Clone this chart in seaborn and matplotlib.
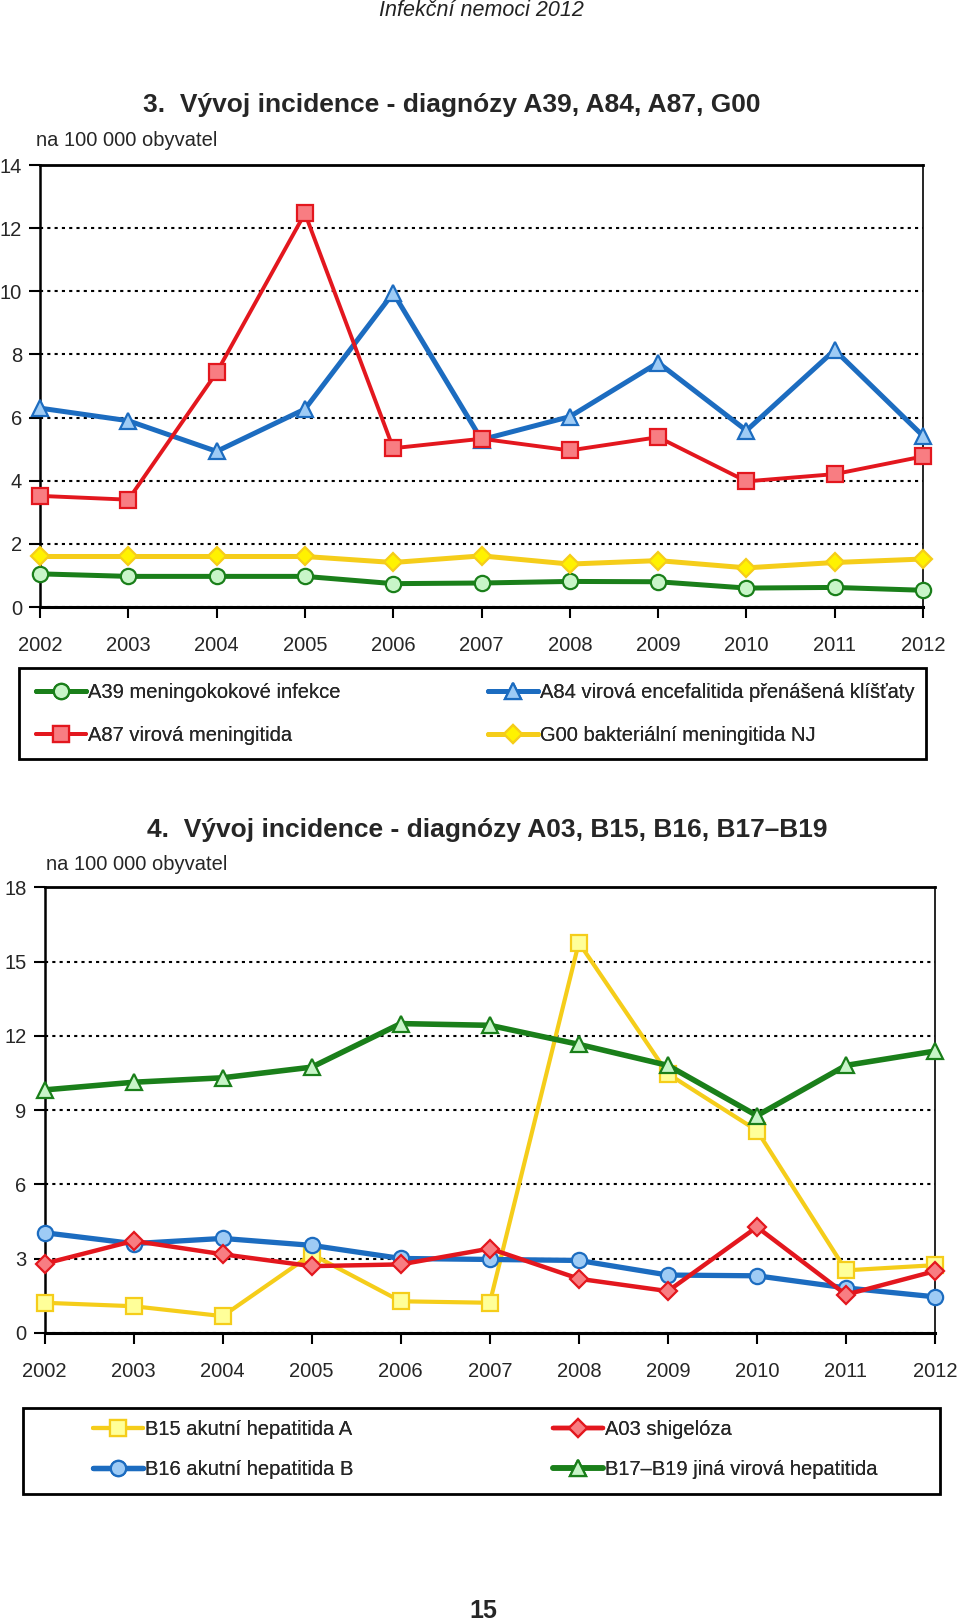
# Vývoj incidence - dva grafy (Infekční nemoci 2012)
import pandas as pd
import matplotlib.pyplot as plt
import seaborn as sns
from matplotlib.patches import Rectangle

sns.set_style('white')
plt.rcParams['font.family'] = ['Liberation Sans', 'DejaVu Sans']

# data - graf 3
years = [2002, 2003, 2004, 2005, 2006, 2007, 2008, 2009, 2010, 2011, 2012]
a39 = [1.05, 0.97, 0.97, 0.97, 0.74, 0.76, 0.81, 0.80, 0.60, 0.62, 0.53]
a84 = [6.30, 5.90, 4.93, 6.27, 9.95, 5.30, 6.03, 7.74, 5.59, 8.14, 5.42]
a87 = [3.52, 3.40, 7.43, 12.47, 5.03, 5.33, 4.96, 5.38, 3.98, 4.21, 4.77]
g00 = [1.60, 1.60, 1.60, 1.60, 1.41, 1.62, 1.36, 1.47, 1.24, 1.41, 1.52]

# data - graf 4
b15 = [1.22, 1.08, 0.68, 3.18, 1.28, 1.22, 15.77, 10.47, 8.18, 2.53, 2.74]
a03 = [2.80, 3.72, 3.18, 2.70, 2.77, 3.41, 2.19, 1.69, 4.28, 1.55, 2.50]
b16 = [4.05, 3.61, 3.82, 3.54, 3.01, 2.97, 2.93, 2.34, 2.31, 1.82, 1.46]
b17 = [9.82, 10.13, 10.31, 10.74, 12.50, 12.43, 11.66, 10.81, 8.78, 10.81, 11.39]

green, green_f = '#1a7f1a', '#c8f5c8'
red, red_f = '#e3171e', '#f87d82'
blue, blue_f = '#1c6cc0', '#9ecbf5'
yellow = '#f5cd1a'

fig = plt.figure(figsize=(9.6, 16.23), dpi=100)

fig.text(0.501, 0.9938, 'Infekční nemoci 2012', ha='center', va='center',
         fontsize=15.5, style='italic', color='#222222')
fig.text(0.503, 0.0075, '15', ha='center', va='center', fontsize=18, fontweight='bold')


def style_axes(ax, ymax, ystep):
    ax.set_xlim(2002, 2012)
    ax.set_ylim(0, ymax)
    ax.set_xticks(years)
    ax.set_yticks(range(0, ymax + 1, ystep))
    ax.set_xlabel('')
    ax.set_ylabel('')
    ax.tick_params(axis='both', labelsize=14.5, direction='out', length=8,
                   width=1.5, color='black', left=True, bottom=True)
    ax.tick_params(axis='x', pad=13)
    ax.tick_params(axis='y', pad=5)
    for s in ['left', 'right', 'top', 'bottom']:
        ax.spines[s].set_visible(True)
        ax.spines[s].set_color('black')
    ax.spines['left'].set_linewidth(1.8)
    ax.spines['bottom'].set_linewidth(2.2)
    ax.spines['top'].set_linewidth(2.0)
    ax.spines['right'].set_linewidth(1.2)
    ax.yaxis.grid(True, color='black', linestyle=(0, (1.5, 2)), linewidth=1.5)
    ax.xaxis.grid(False)
    ax.set_axisbelow(True)
    if ax.get_legend():
        ax.get_legend().remove()


def draw(ax, y, label, color, face, marker, lw, ms, z):
    sns.lineplot(x=years, y=y, ax=ax, color=color, lw=lw, marker=marker,
                 markersize=ms, markerfacecolor=face, markeredgecolor=color,
                 markeredgewidth=1.6, label=label, clip_on=False, zorder=z)


def legend_box(handles, labels, x0, y0, w, h, col2_x, col1_x, y_top, spacing):
    fig.add_artist(Rectangle((x0, y0), w, h, transform=fig.transFigure,
                             fill=False, edgecolor='black', linewidth=2))
    for hs, ls, xx in [(handles[:2], labels[:2], col1_x), (handles[2:], labels[2:], col2_x)]:
        leg = fig.legend(hs, ls, loc='upper left', bbox_to_anchor=(xx, y_top),
                         frameon=False, fontsize=14.5, handlelength=2.5,
                         handletextpad=0.1, labelspacing=spacing,
                         borderpad=0, borderaxespad=0)
        fig.add_artist(leg)


# graf 3
ax1 = fig.add_axes([0.0417, 0.626, 0.9198, 0.2723])
draw(ax1, a39, 'A39 meningokokové infekce', green, green_f, 'o', 3.6, 11, 3)
draw(ax1, a87, 'A87 virová meningitida', red, red_f, 's', 2.8, 11, 5)
draw(ax1, a84, 'A84 virová encefalitida přenášená klíšťaty', blue, blue_f, '^', 3.6, 11, 4)
draw(ax1, g00, 'G00 bakteriální meningitida NJ', yellow, '#fff200', 'D', 3.6, 9, 3)
h1, l1 = ax1.get_legend_handles_labels()
style_axes(ax1, 14, 2)
fig.text(0.471, 0.9355, '3.  Vývoj incidence - diagnózy A39, A84, A87, G00',
         ha='center', va='center', fontsize=19, fontweight='bold')
fig.text(0.037, 0.9135, 'na 100 000 obyvatel', ha='left', va='center', fontsize=14.5)
legend_box(h1, l1, 0.0198, 0.5323, 0.9448, 0.0561, 0.508, 0.037, 0.5793, 1.2)

# graf 4
ax2 = fig.add_axes([0.0464, 0.1787, 0.9276, 0.2745])
draw(ax2, b15, 'B15 akutní hepatitida A', yellow, '#ffff99', 's', 3.0, 11, 3)
draw(ax2, b16, 'B16 akutní hepatitida B', blue, blue_f, 'o', 3.8, 11, 4)
draw(ax2, a03, 'A03 shigelóza', red, red_f, 'D', 3.2, 9, 5)
draw(ax2, b17, 'B17–B19 jiná virová hepatitida', green, green_f, '^', 4.0, 11, 3)
h2, l2 = ax2.get_legend_handles_labels()
style_axes(ax2, 18, 3)
fig.text(0.508, 0.4889, '4.  Vývoj incidence - diagnózy A03, B15, B16, B17–B19',
         ha='center', va='center', fontsize=19, fontweight='bold')
fig.text(0.048, 0.4675, 'na 100 000 obyvatel', ha='left', va='center', fontsize=14.5)
legend_box(h2, l2, 0.024, 0.0795, 0.9552, 0.053, 0.576, 0.097, 0.1252, 1.05)

plt.savefig('out.png', dpi=100)
